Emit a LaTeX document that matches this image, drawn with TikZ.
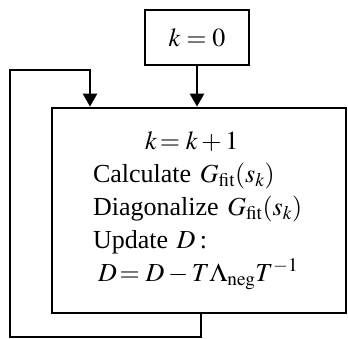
\documentclass[tikz,border=0pt]{standalone}
\usepackage{mathptmx}
\usepackage{fontspec}
\setmainfont{Liberation Serif}
\usetikzlibrary{arrows.meta,positioning,calc}
\tikzset{
    box/.style={rectangle,draw,line width=2.8pt,inner sep=0pt},
    arrow/.style={-{Triangle[length=13pt,width=14pt]},line width=2.8pt},
}

\begin{document}
\begin{tikzpicture}[x=1pt,y=1pt,font=\fontsize{26}{33}\selectfont]
    \useasboundingbox (0,0) rectangle (348,339);

    % ---- start and loop body ----
    \node[box,minimum width=104pt,minimum height=55pt] (init) at (197,301.5) {$k=0$};
    \node[box,minimum width=294pt,minimum height=205pt,text width=254pt,align=left] (loop) at (199,128.5)
        {\leftskip=21pt\hspace*{52pt}$k\!=k+1$\\
         Calculate $G_{\mathrm{fit}}(s_k)$\\
         Diagonalize $G_{\mathrm{fit}}(s_k)$\\
         Update $D$\,:\\
         \hspace*{5pt}$D\!=D-T\Lambda_{\mathrm{neg}}T^{-1}$\par\vspace*{25pt}};

    % ---- return path ----
    \coordinate (exit) at ($(loop.south)+(2,0)$);
    \coordinate (fbl) at (10,2);
    \coordinate (fbt) at (90,269);

    % ---- connectors ----
    \draw[arrow] (init) -- (init |- loop.north);
    \draw[arrow] (exit) |- (fbl) |- (fbt) -- (fbt |- loop.north);

\end{tikzpicture}
\end{document}
